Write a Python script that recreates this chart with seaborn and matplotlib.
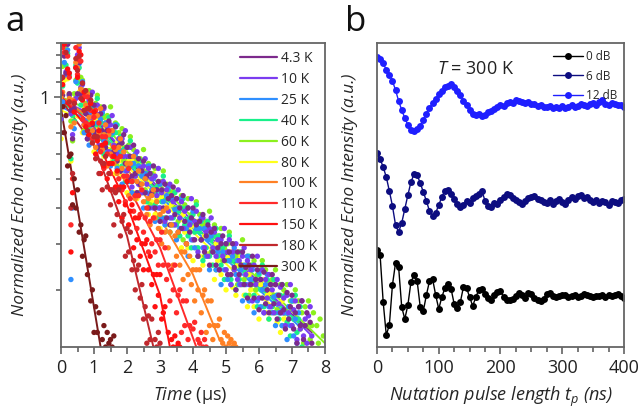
import matplotlib
matplotlib.use('Agg')
import matplotlib.pyplot as plt
from matplotlib.ticker import FixedLocator, FixedFormatter, NullFormatter, MultipleLocator
import seaborn as sns
import pandas as pd

# ---- panel a: echo decay, one reading every 0.05 us ----
time_us = [0.00, 0.05, 0.10, 0.15, 0.20, 0.25, 0.30, 0.35, 0.40, 0.45,
           0.50, 0.55, 0.60, 0.65, 0.70, 0.75, 0.80, 0.85, 0.90, 0.95,
           1.00, 1.05, 1.10, 1.15, 1.20, 1.25, 1.30, 1.35, 1.40, 1.45,
           1.50, 1.55, 1.60, 1.65, 1.70, 1.75, 1.80, 1.85, 1.90, 1.95,
           2.00, 2.05, 2.10, 2.15, 2.20, 2.25, 2.30, 2.35, 2.40, 2.45,
           2.50, 2.55, 2.60, 2.65, 2.70, 2.75, 2.80, 2.85, 2.90, 2.95,
           3.00, 3.05, 3.10, 3.15, 3.20, 3.25, 3.30, 3.35, 3.40, 3.45,
           3.50, 3.55, 3.60, 3.65, 3.70, 3.75, 3.80, 3.85, 3.90, 3.95,
           4.00, 4.05, 4.10, 4.15, 4.20, 4.25, 4.30, 4.35, 4.40, 4.45,
           4.50, 4.55, 4.60, 4.65, 4.70, 4.75, 4.80, 4.85, 4.90, 4.95,
           5.00, 5.05, 5.10, 5.15, 5.20, 5.25, 5.30, 5.35, 5.40, 5.45,
           5.50, 5.55, 5.60, 5.65, 5.70, 5.75, 5.80, 5.85, 5.90, 5.95,
           6.00, 6.05, 6.10, 6.15, 6.20, 6.25, 6.30, 6.35, 6.40, 6.45,
           6.50, 6.55, 6.60, 6.65, 6.70, 6.75, 6.80, 6.85, 6.90, 6.95,
           7.00, 7.05, 7.10, 7.15, 7.20, 7.25, 7.30, 7.35, 7.40, 7.45,
           7.50, 7.55, 7.60, 7.65, 7.70, 7.75, 7.80, 7.85, 7.90, 7.95, 8.00]

temps = ['4.3 K', '10 K', '25 K', '40 K', '60 K', '80 K',
         '100 K', '110 K', '150 K', '180 K', '300 K']
temp_colors = ['#7d2a8c', '#7b3cf0', '#2f8fff', '#19f08a', '#8cf01e', '#ffff1a',
               '#ff8024', '#ff2a2a', '#ff1010', '#c0282d', '#7a1a1a']
draw_order = ['80 K', '60 K', '40 K', '25 K', '10 K', '4.3 K',
              '100 K', '110 K', '150 K', '180 K', '300 K']

echo_4k = [1.03, 1.01, 1.29, 1.16, 1.39, 1.02, 0.92, 0.77, 0.93, 1.20, 1.02, 1.24, 1.02, 1.09, 0.84, 0.90, 0.77, 0.95, 1.01, 0.84,
           .95, .80, .89, .73, .90, .81, .94, .73, .81, .86, .66, .81, .71, .83, .67, .74, .63, .75, .79, .66,
           .73, .60, .69, .61, .74, .62, .55, .68, .58, .63, .67, .55, .61, .50, .62, .55, .65, .50, .56, .59,
           .46, .56, .50, .58, .47, .53, .45, .54, .57, .48, .53, .43, .50, .44, .54, .46, .40, .50, .43, .47,
           .50, .41, .45, .37, .46, .41, .48, .38, .42, .45, .35, .43, .38, .44, .35, .39, .34, .40, .42, .36,
           .40, .33, .38, .33, .40, .345, .30, .38, .33, .35, .38, .31, .345, .285, .35, .31, .37, .285, .32, .34,
           .265, .32, .285, .335, .275, .30, .26, .31, .33, .275, .31, .25, .29, .26, .31, .265, .235, .295, .25, .27,
           .29, .235, .26, .215, .27, .24, .28, .22, .24, .26, .20, .245, .215]
echo_10k = [0.87, 1.13, 1.39, 1.17, 1.39, 1.01, 0.90, 0.79, 0.96, 0.99, 1.30, 1.36, 1.06, 1.08, 0.86, 0.92, 0.77, 0.98, 0.88, 1.03,
            .81, .90, .95, .74, .90, .80, .93, .75, .83, .71, .84, .89, .74, .83, .70, .77, .63, .77, .69, .81,
            .63, .69, .73, .57, .69, .61, .71, .58, .64, .55, .65, .68, .58, .64, .54, .60, .50, .61, .54, .64,
            .50, .55, .59, .46, .56, .49, .58, .47, .52, .45, .53, .56, .47, .52, .44, .49, .40, .50, .45, .53,
            .41, .46, .49, .38, .46, .41, .47, .39, .43, .37, .44, .47, .39, .43, .37, .41, .34, .41, .37, .44,
            .34, .38, .41, .31, .38, .34, .40, .32, .36, .31, .37, .39, .33, .36, .31, .34, .28, .35, .31, .37,
            .285, .32, .34, .26, .32, .285, .33, .27, .30, .26, .31, .32, .275, .305, .26, .285, .24, .29, .26, .31,
            .24, .265, .28, .22, .27, .235, .28, .225, .25, .215, .255, .27, .225]
echo_25k = [1.03, 0.97, 1.24, 1.15, 1.34, 1.16, 0.32, 0.50, 0.82, 1.10, 1.00, 1.23, 1.02, 1.10, 0.80, 0.86, 0.93, 0.74, 0.91, 0.80,
            .95, .77, .85, .72, .87, .91, .76, .85, .71, .79, .65, .80, .71, .84, .64, .72, .76, .58, .71, .63,
            .73, .59, .65, .55, .66, .70, .59, .65, .55, .61, .50, .62, .55, .65, .50, .56, .60, .46, .56, .50,
            .58, .47, .52, .45, .54, .57, .47, .53, .45, .495, .41, .50, .44, .53, .44, .44, .44, .37, .46, .41,
            .49, .39, .44, .37, .44, .47, .39, .44, .37, .41, .34, .42, .38, .44, .34, .38, .41, .31, .38, .34,
            .40, .32, .36, .31, .37, .39, .33, .36, .31, .34, .28, .35, .31, .37, .28, .32, .34, .26, .32, .28,
            .335, .27, .30, .26, .31, .33, .27, .31, .26, .287, .24, .29, .26, .26, .24, .26, .26, .22, .27, .24,
            .28, .225, .25, .215, .26]
echo_40k = [1.02, 1.07, 1.44, 1.22, 1.31, 1.14, 0.68, 0.89, 0.86, 1.22, 1.09, 1.20, 0.95, 1.04, 1.04, 0.84, 0.95, 0.83, 0.92, 0.76,
            .94, .84, .99, .77, .85, .90, .70, .85, .75, .88, .71, .79, .67, .80, .84, .70, .78, .65, .72, .59,
            .73, .65, .76, .59, .65, .69, .54, .65, .58, .67, .55, .61, .52, .62, .65, .55, .61, .51, .57, .47,
            .58, .52, .61, .47, .53, .56, .43, .53, .47, .55, .45, .49, .42, .50, .53, .45, .50, .42, .47, .39,
            .48, .43, .51, .39, .43, .46, .36, .44, .39, .46, .37, .41, .35, .42, .44, .37, .42, .35, .39, .32,
            .40, .36, .42, .32, .36, .38, .30, .36, .32, .38, .31, .34, .29, .35, .37, .31, .35, .29, .32, .27,
            .33, .30, .35, .27, .30, .32, .25, .31, .27, .32, .26, .29, .25, .29, .31, .26, .29, .245, .27, .225,
            .28, .25, .29, .23, .25, .27, .21]
echo_60k = [0.87, 1.21, 1.48, 1.35, 1.46, 1.01, 0.86, 0.76, 1.02, 1.11, 1.44, 1.11, 1.13, 1.11, 0.81, 0.96, 0.86, 1.04, 0.85, 0.93,
            .81, .96, 1.01, .85, .94, .80, .88, .72, .89, .80, .94, .72, .80, .85, .65, .80, .71, .82, .67, .73,
            .63, .74, .78, .65, .72, .61, .67, .55, .68, .61, .72, .56, .62, .66, .51, .62, .55, .64, .52, .58,
            .50, .59, .63, .525, .58, .49, .55, .45, .555, .50, .59, .46, .50, .54, .41, .51, .45, .53, .43, .48,
            .41, .49, .52, .435, .48, .41, .45, .37, .46, .42, .49, .38, .42, .45, .34, .42, .38, .44, .36, .39,
            .34, .40, .43, .36, .40, .34, .37, .31, .38, .345, .41, .32, .35, .37, .29, .35, .31, .36, .30, .33,
            .285, .34, .36, .30, .34, .285, .315, .26, .32, .29, .34, .265, .29, .31, .24, .30, .265, .31, .25, .28,
            .24, .28, .30, .25, .28, .235, .26, .215, .27, .24, .28, .22, .24, .26, .20, .24, .215, .25, .205, .225, .19]
echo_80k = [0.77, 1.10, 1.11, 1.42, 1.12, 1.02, 0.67, 0.86, 0.98, 1.00, 1.24, 1.03, 1.06, 0.80, 0.94, 0.81, 0.96, 0.77, 0.85, 0.92,
            .71, .87, .77, .89, .72, .81, .69, .82, .86, .72, .80, .67, .74, .62, .75, .67, .78, .61, .67, .72,
            .55, .67, .59, .68, .55, .62, .53, .63, .66, .55, .62, .52, .58, .48, .59, .52, .62, .48, .53, .57,
            .44, .535, .47, .55, .45, .50, .43, .51, .535, .45, .50, .42, .47, .39, .48, .43, .50, .39, .44, .47,
            .36, .445, .39, .46, .37, .41, .35, .42, .44, .375, .42, .35, .39, .32, .40, .36, .42, .33, .36, .39,
            .30, .367, .325, .38, .305, .34, .29, .35, .37, .31, .35, .29, .33, .27, .33, .30, .35, .27, .30, .32,
            .25, .31, .27, .32, .26, .29, .25, .295, .31, .26, .29, .245, .275, .23, .28, .25, .295]
echo_100k = [1.00, 1.03, 1.48, 1.41, 1.60, 0.99, 0.83, 0.98, 0.85, 1.24, 1.20, 1.39, 1.05, 1.04, 0.84, 0.95, 1.02, 0.88, 0.97, 0.81,
             .89, .73, .89, .80, .93, .72, .79, .84, .65, .79, .70, .81, .66, .72, .62, .73, .77, .64, .71, .60,
             .66, .54, .66, .59, .69, .53, .59, .63, .48, .58, .52, .60, .48, .53, .45, .54, .56, .47, .52, .44,
             .48, .40, .49, .43, .50, .39, .43, .45, .35, .42, .37, .43, .35, .38, .32, .38, .40, .33, .37, .31,
             .34, .28, .34, .30, .34, .26, .29, .30, .23, .28, .24, .28, .22, .24, .20, .24, .25, .22, .215, .23,
             .21, .225, .215, .22, .21, .215, .21]
echo_110k = [1.03, 1.36, 1.32, 1.57, 1.29, 1.13, 0.45, 0.60, 0.97, 1.36, 1.15, 1.26, 1.25, 0.87, 1.00, 0.85, 1.00, 0.84, 0.92, 0.77,
             .88, .92, .77, .85, .71, .78, .64, .78, .70, .81, .62, .69, .73, .56, .68, .60, .69, .56, .61, .52,
             .61, .64, .53, .59, .49, .54, .44, .54, .48, .56, .43, .47, .50, .38, .46, .40, .47, .38, .41, .35,
             .41, .43, .35, .39, .32, .35, .28, .34, .30, .35, .26, .29, .30, .23, .28, .24, .28, .22, .24, .20,
             .235, .245, .20, .22, .215, .23, .21, .22, .21]
echo_150k = [1.12, 1.08, 1.39, 1.58, 1.19, 1.16, 0.38, 0.55, 0.91, 1.20, 1.13, 1.33, 1.30, 0.98, 1.03, 0.83, 0.93, 0.79, 0.96, 0.85,
             .91, .70, .76, .81, .62, .74, .65, .75, .60, .66, .56, .66, .69, .57, .63, .52, .57, .47, .57, .51,
             .59, .45, .49, .51, .39, .47, .41, .47, .37, .40, .34, .40, .41, .34, .37, .31, .33, .27, .33, .29,
             .33, .25, .26, .27, .20, .23, .20, .22, .21, .225, .21, .215, .21]
echo_180k = [1.02, 1.13, 1.53, 1.32, 1.43, 0.97, 0.50, 0.62, 0.96, 1.27, 1.18, 1.29, 0.99, 1.09, 0.92, 1.04, 0.81, 0.93, 0.98, 0.75,
             .78, .68, .78, .62, .67, .56, .66, .69, .57, .62, .51, .56, .45, .55, .48, .56, .42, .46, .48, .37,
             .44, .38, .43, .34, .36, .30, .34, .35, .285, .31, .25, .27, .215, .255, .22, .25, .19, .22, .21, .23,
             .215]
echo_300k = [.80, .94, .80, .89, .65, .69, .70, .51, .60, .50, .56, .43, .45, .37, .41, .42, .33, .35, .28, .30,
             .23, .27, .23, .26, .19, .22, .24, .21, .23, .215, .22, .21, .225]
echo = dict(zip(temps, [echo_4k, echo_10k, echo_25k, echo_40k, echo_60k, echo_80k,
                        echo_100k, echo_110k, echo_150k, echo_180k, echo_300k]))

# fitted decays (nodes of each fit curve)
fit_t = {
    '4.3 K': [0, 1, 2, 4, 6, 7.6], '10 K': [0, 1, 2, 4, 6, 7.6], '25 K': [0, 1, 2, 4, 6, 7.2],
    '40 K': [0, 1, 2, 4, 6, 7.3], '60 K': [0, 1, 2, 4, 6, 8.0], '80 K': [0, 1, 2, 4, 6, 6.8],
    '100 K': [0, 1, 2, 3, 4, 4.8], '110 K': [0, 1, 2, 3, 4.1], '150 K': [0, 1, 2, 3, 3.3],
    '180 K': [0, 1, 2, 2.8], '300 K': [0, 1.2],
}
fit_v = {
    '4.3 K': [0.97, 0.88, 0.68, 0.45, 0.31, 0.23], '10 K': [0.98, 0.89, 0.69, 0.46, 0.315, 0.225],
    '25 K': [0.94, 0.85, 0.66, 0.44, 0.30, 0.24], '40 K': [0.96, 0.87, 0.67, 0.45, 0.305, 0.24],
    '60 K': [1.0, 0.91, 0.71, 0.47, 0.32, 0.215], '80 K': [0.92, 0.84, 0.65, 0.43, 0.29, 0.255],
    '100 K': [1.0, 0.86, 0.64, 0.47, 0.33, 0.22], '110 K': [1.0, 0.83, 0.58, 0.39, 0.21],
    '150 K': [1.0, 0.79, 0.51, 0.29, 0.21], '180 K': [0.98, 0.74, 0.42, 0.21], '300 K': [0.93, 0.21],
}

# ---- panel b: nutation, one reading every 5 ns ----
t_ns = [0, 5, 10, 15, 20, 25, 30, 35, 40, 45, 50, 55, 60, 65, 70, 75, 80, 85, 90, 95,
        100, 105, 110, 115, 120, 125, 130, 135, 140, 145, 150, 155, 160, 165, 170, 175,
        180, 185, 190, 195, 200, 205, 210, 215, 220, 225, 230, 235, 240, 245, 250, 255,
        260, 265, 270, 275, 280, 285, 290, 295, 300, 305, 310, 315, 320, 325, 330, 335,
        340, 345, 350, 355, 360, 365, 370, 375, 380, 385, 390, 395, 400]
powers = ['0 dB', '6 dB', '12 dB']
power_colors = ['#000000', '#0d0d80', '#1f1fff']
nut_0db = [0.97, 0.92, 0.45, 0.12, 0.22, 0.62, 0.84, 0.80, 0.40, 0.28, 0.42, 0.65, 0.72,
           0.66, 0.40, 0.36, 0.52, 0.66, 0.68, 0.52, 0.38, 0.50, 0.59, 0.63, 0.58, 0.43,
           0.39, 0.45, 0.60, 0.59, 0.50, 0.41, 0.50, 0.57, 0.58, 0.53, 0.49, 0.47, 0.52,
           0.55, 0.56, 0.50, 0.47, 0.47, 0.48, 0.51, 0.54, 0.52, 0.49, 0.54, 0.53, 0.49,
           0.47, 0.46, 0.48, 0.53, 0.54, 0.51, 0.50, 0.51, 0.52, 0.52, 0.50, 0.51, 0.52,
           0.50, 0.51, 0.53, 0.52, 0.51, 0.50, 0.51, 0.51, 0.52, 0.50, 0.52, 0.51, 0.52,
           0.53, 0.51, 0.49]
nut_6db = [1.94, 1.88, 1.80, 1.70, 1.56, 1.41, 1.22, 1.15, 1.24, 1.38, 1.52, 1.65, 1.73,
           1.72, 1.64, 1.55, 1.46, 1.36, 1.31, 1.34, 1.42, 1.50, 1.56, 1.57, 1.53, 1.48,
           1.43, 1.40, 1.42, 1.46, 1.44, 1.49, 1.51, 1.53, 1.56, 1.46, 1.41, 1.40, 1.44,
           1.43, 1.47, 1.50, 1.53, 1.52, 1.49, 1.47, 1.45, 1.43, 1.46, 1.49, 1.50, 1.51,
           1.48, 1.47, 1.45, 1.44, 1.47, 1.43, 1.46, 1.48, 1.45, 1.43, 1.47, 1.50, 1.48,
           1.51, 1.52, 1.49, 1.50, 1.47, 1.45, 1.47, 1.44, 1.46, 1.45, 1.42, 1.46, 1.45,
           1.44, 1.47, 1.48]
nut_12db = [2.90, 2.88, 2.84, 2.77, 2.72, 2.66, 2.57, 2.46, 2.37, 2.29, 2.22, 2.17, 2.16,
            2.18, 2.21, 2.27, 2.33, 2.39, 2.44, 2.48, 2.53, 2.56, 2.60, 2.61, 2.63, 2.60,
            2.56, 2.52, 2.46, 2.42, 2.37, 2.33, 2.32, 2.33, 2.31, 2.32, 2.35, 2.36, 2.38,
            2.40, 2.42, 2.41, 2.44, 2.45, 2.44, 2.47, 2.46, 2.45, 2.44, 2.45, 2.43, 2.43,
            2.41, 2.42, 2.40, 2.40, 2.41, 2.39, 2.40, 2.39, 2.41, 2.39, 2.40, 2.42, 2.40,
            2.41, 2.43, 2.42, 2.41, 2.43, 2.44, 2.42, 2.45, 2.47, 2.43, 2.42, 2.44, 2.43,
            2.42, 2.42, 2.40]
nutation = [nut_0db, nut_6db, nut_12db]

# ---- style ----
sns.set_style('ticks')
plt.rcParams['font.family'] = ['Open Sans', 'DejaVu Sans']
plt.rcParams['mathtext.fontset'] = 'custom'
plt.rcParams['mathtext.rm'] = 'Open Sans'
plt.rcParams['mathtext.it'] = 'Open Sans:italic'
plt.rcParams['axes.edgecolor'] = '#666666'
plt.rcParams['axes.linewidth'] = 1.3
plt.rcParams['xtick.color'] = '#555555'
plt.rcParams['ytick.color'] = '#555555'
plt.rcParams['xtick.labelcolor'] = '#222222'
plt.rcParams['ytick.labelcolor'] = '#222222'

fig = plt.figure(figsize=(6.39, 4.08), dpi=100)
ax_a = fig.add_axes([0.0955, 0.1495, 0.4131, 0.7451])
ax_b = fig.add_axes([0.590, 0.1495, 0.3865, 0.7451])

# panel a: fits underneath, measured points on top
for tk, c in zip(temps, temp_colors):
    sns.lineplot(x=fit_t[tk], y=fit_v[tk], color=c, lw=1.4, label=tk, ax=ax_a, zorder=1)

rows = []
for tk in draw_order:
    for t, v in zip(time_us, echo[tk]):
        rows.append((tk, t, v))
df_a = pd.DataFrame(rows, columns=['temp', 'time', 'echo'])
sns.scatterplot(data=df_a, x='time', y='echo', hue='temp', hue_order=temps,
                palette=dict(zip(temps, temp_colors)), s=15, linewidth=0,
                legend=False, ax=ax_a, zorder=2)

ax_a.set_yscale('log')
ax_a.set_xlim(0, 8)
ax_a.set_ylim(0.21, 1.40)
ax_a.xaxis.set_major_locator(MultipleLocator(1))
ax_a.xaxis.set_minor_locator(MultipleLocator(0.5))
ax_a.yaxis.set_major_locator(FixedLocator([1]))
ax_a.yaxis.set_major_formatter(FixedFormatter(['1']))
ax_a.yaxis.set_minor_locator(FixedLocator([0.3, 0.4, 0.5, 0.6, 0.7, 0.8, 0.9,
                                           1.1, 1.2, 1.3, 1.4]))
ax_a.yaxis.set_minor_formatter(NullFormatter())
ax_a.tick_params(which='both', direction='out', labelsize=13, width=1.1)
ax_a.tick_params(which='major', length=5)
ax_a.tick_params(which='minor', length=3.5)
ax_a.set_xlabel(r'$\mathit{Time}$ (µs)', fontsize=13)
ax_a.set_ylabel('Normalized Echo Intensity (a.u.)', fontsize=12.5, style='italic')
ax_a.xaxis.set_label_coords(0.49, -0.125)
ax_a.yaxis.set_label_coords(-0.125, 0.5)
leg = ax_a.legend(loc='upper right', frameon=False, fontsize=10, handlelength=2.7,
                  handletextpad=0.25, labelspacing=0.42, borderaxespad=0.2)
for ln in leg.get_lines():
    ln.set_linewidth(1.6)

# panel b
rows = []
for p, vals in zip(powers, nutation):
    for t, v in zip(t_ns, vals):
        rows.append((p, t, v))
df_b = pd.DataFrame(rows, columns=['power', 't', 'echo'])
sns.lineplot(data=df_b, x='t', y='echo', hue='power', hue_order=powers,
             palette=dict(zip(powers, power_colors)), marker='o', markersize=5,
             markeredgewidth=0, lw=1.0, ax=ax_b)
ax_b.set_xlim(0, 400)
ax_b.set_ylim(0, 3.04)
ax_b.set_yticks([])
ax_b.xaxis.set_major_locator(MultipleLocator(100))
ax_b.xaxis.set_minor_locator(MultipleLocator(25))
ax_b.tick_params(which='both', direction='out', labelsize=13, width=1.1)
ax_b.tick_params(which='major', length=5)
ax_b.tick_params(which='minor', length=3.5)
ax_b.set_xlabel(r'Nutation pulse length $t_p$ (ns)', fontsize=13, style='italic')
ax_b.set_ylabel('Normalized Echo Intensity (a.u.)', fontsize=12.5, style='italic')
ax_b.xaxis.set_label_coords(0.5, -0.125)
ax_b.yaxis.set_label_coords(-0.075, 0.5)
ax_b.text(0.40, 0.915, r'$T$ = 300 K', transform=ax_b.transAxes, fontsize=13,
          ha='center', va='center', color='#222222')
ax_b.legend(loc='upper right', frameon=False, fontsize=8.5, handlelength=2.6,
            handletextpad=0.2, labelspacing=0.55, borderaxespad=0.2, numpoints=1)

for ax in (ax_a, ax_b):
    for sp in ax.spines.values():
        sp.set_visible(True)

fig.text(0.008, 0.925, 'a', fontsize=25, color='#111111')
fig.text(0.540, 0.925, 'b', fontsize=25, color='#111111')

fig.savefig('out.png', dpi=100)
